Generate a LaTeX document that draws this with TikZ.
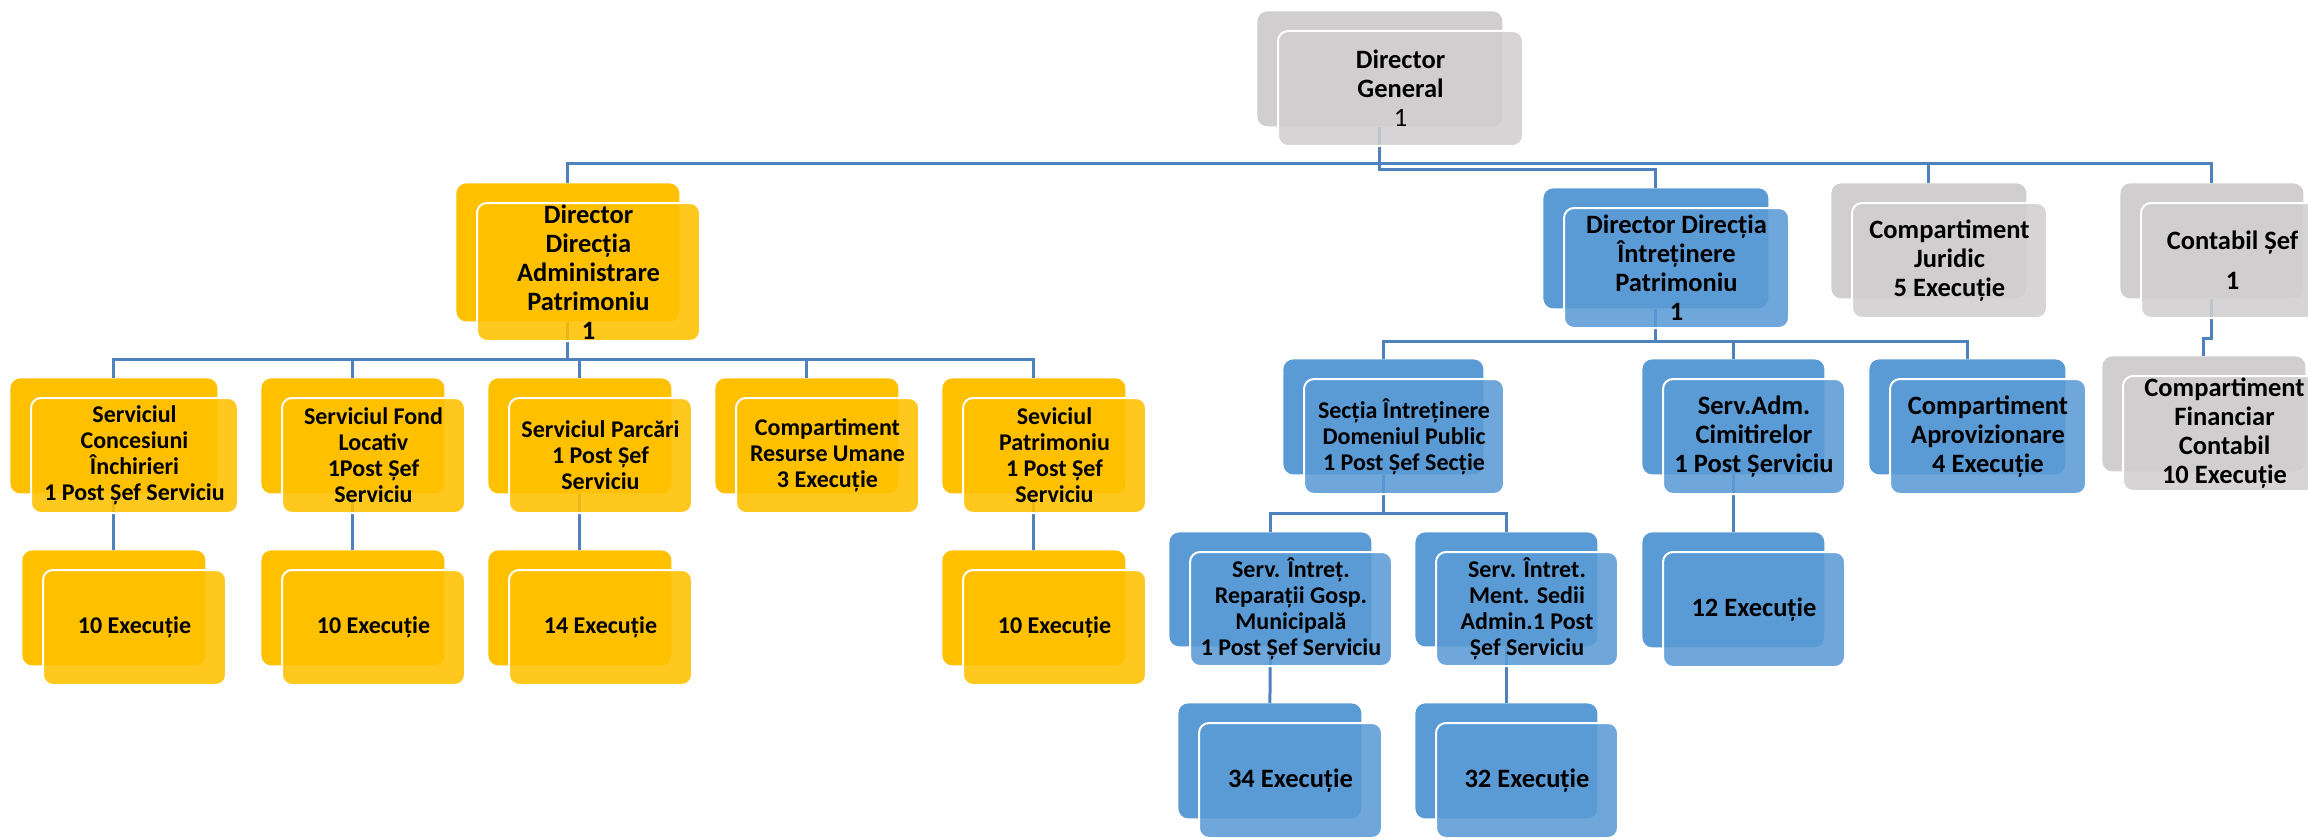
\documentclass[tikz,border=0pt]{standalone}
\usepackage{fontspec}
\setmainfont{Carlito}
\usetikzlibrary{backgrounds}
\definecolor{ygold}{HTML}{FFC000}
\definecolor{sblue}{HTML}{5B9BD5}
\definecolor{lgrey}{HTML}{D0CECE}
\definecolor{linkblue}{RGB}{79,129,189}
\newcommand{\orgbox}[8][smalltxt]{%
  \node[backbox, fill=#7, minimum width=#5*0.5pt, minimum height=#6*0.5pt] (#2) at (#3,#4) {};
  \node[frontbox, #1, fill=#7, minimum width=#5*0.5pt, minimum height=#6*0.5pt] (#2t) at ([shift={(20,19)}]#2.north west) {#8};
}
\begin{document}
\begin{tikzpicture}[x=0.5pt, y=-0.5pt,
    backbox/.style={anchor=north west, rounded corners=5pt, inner sep=0pt},
    frontbox/.style={anchor=north west, rounded corners=5pt, inner sep=0pt, draw=white, line width=1pt,
        fill opacity=0.88, text opacity=1, align=center},
    smalltxt/.style={font=\bfseries\fontsize{12}{13}\selectfont},
    bigtxt/.style={font=\bfseries\fontsize{13.25}{14.5}\selectfont},
    link/.style={draw=linkblue, line width=1.5pt}]
    \useasboundingbox (0,0) rectangle (2308,840);
    \orgbox[bigtxt]{dg}{1257}{11}{245}{115}{lgrey}{Director\\General\\{\mdseries 1}}
    \orgbox[bigtxt]{jur}{1831}{183}{195}{115}{lgrey}{Compartiment\\Juridic\\5 Execuție}
    \orgbox[bigtxt]{cont}{2120}{183}{183}{115}{lgrey}{Contabil Șef\\[5.5pt]1}
    \orgbox[bigtxt]{fin}{2102}{356}{203}{115}{lgrey}{Compartiment\\Financiar\\Contabil\\10 Execuție}
    \orgbox[bigtxt]{dap}{456}{183}{223}{138}{ygold}{Director\\Direcția\\Administrare\\Patrimoniu\\1}
    \orgbox{conc}{10}{378}{207}{115}{ygold}{Serviciul\\Concesiuni\\Închirieri\\1 Post Șef Serviciu}
    \orgbox{fond}{261}{378}{183}{115}{ygold}{Serviciul Fond\\Locativ\\1Post Șef\\Serviciu}
    \orgbox{parc}{488}{378}{183}{115}{ygold}{Serviciul Parcări\\1 Post Șef\\Serviciu}
    \orgbox{ru}{715}{378}{183}{115}{ygold}{Compartiment\\Resurse Umane\\3 Execuție}
    \orgbox{patr}{942}{378}{183}{115}{ygold}{Seviciul\\Patrimoniu\\1 Post Șef\\Serviciu}
    \orgbox{conce}{22}{550}{183}{115}{ygold}{10 Execuție}
    \orgbox{fonde}{261}{550}{183}{115}{ygold}{10 Execuție}
    \orgbox{parce}{488}{550}{183}{115}{ygold}{14 Execuție}
    \orgbox{patre}{942}{550}{183}{115}{ygold}{10 Execuție}
    \orgbox[bigtxt]{dip}{1543}{188}{225}{120}{sblue}{Director Direcția\\Întreținere\\Patrimoniu\\1}
    \orgbox{sec}{1283}{359}{200}{115}{sblue}{Secția Întreținere\\Domeniul Public\\1 Post Șef Secție}
    \orgbox[bigtxt]{cim}{1642}{359}{182}{115}{sblue}{Serv.Adm.\\Cimitirelor\\1 Post Șerviciu}
    \orgbox[bigtxt]{apr}{1869}{359}{196}{115}{sblue}{Compartiment\\Aprovizionare\\4 Execuție}
    \orgbox{rep}{1169}{532}{202}{114}{sblue}{Serv. Întreț.\\Reparații Gosp.\\Municipală\\1 Post Șef Serviciu}
    \orgbox{ment}{1415}{532}{182}{114}{sblue}{Serv. Întret.\\Ment. Sedii\\Admin.1 Post\\Șef Serviciu}
    \orgbox[bigtxt]{cime}{1642}{532}{182}{115}{sblue}{12 Execuție}
    \orgbox[bigtxt]{repe}{1178}{703}{183}{115}{sblue}{34 Execuție}
    \orgbox[bigtxt]{mente}{1415}{703}{182}{115}{sblue}{32 Execuție}
    \begin{scope}[on background layer]
        \draw[link] (dg.south) -- ++(0,37) -| (dap.north);
        \draw[link] (dg.south) -- ++(0,37) -| (jur.north);
        \draw[link] (dg.south) -- ++(0,37) -| (cont.north);
        \draw[link] (dg.south) -- ++(0,43) -| (dip.north);
        \foreach \kid in {conc,fond,parc,ru,patr}
            \draw[link] (dap.south) -- ++(0,38) -| (\kid.north);
        \foreach \up/\down in {conc/conce,fond/fonde,parc/parce,patr/patre,cim/cime,rep/repe,ment/mente}
            \draw[link] (\up.south) -- (\down.north);
        \foreach \kid in {sec,cim,apr}
            \draw[link] (dip.south) -- ++(0,33) -| (\kid.north);
        \foreach \kid in {rep,ment}
            \draw[link] (sec.south) -- ++(0,39) -| (\kid.north);
        \draw[link] (cont.south) -- ++(0,40) -| (fin.north);
    \end{scope}
\end{tikzpicture}
\end{document}
